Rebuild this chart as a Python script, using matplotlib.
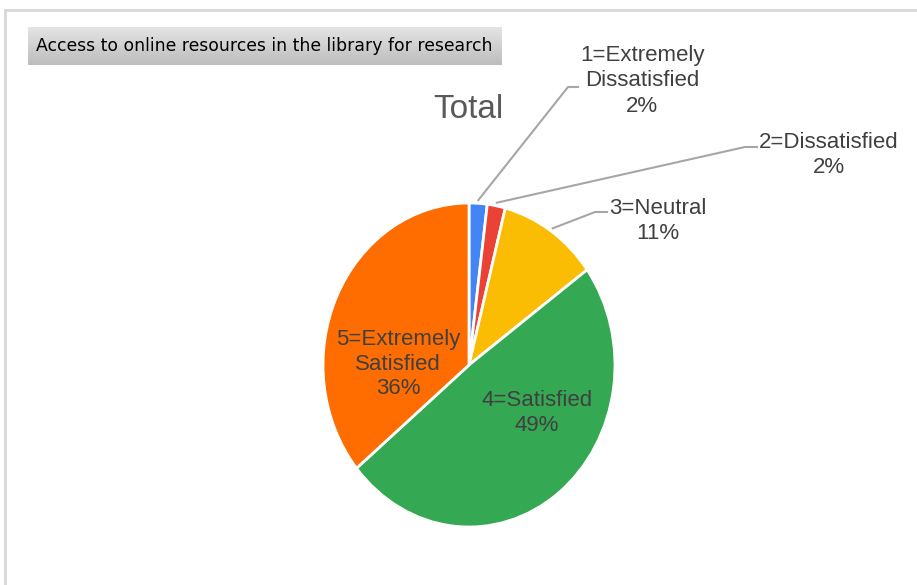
import numpy as np
import matplotlib
matplotlib.use("Agg")
import matplotlib.pyplot as plt

# data
categories = ["1=Extremely\nDissatisfied", "2=Dissatisfied", "3=Neutral",
              "4=Satisfied", "5=Extremely\nSatisfied"]
shares = [2, 2, 11, 49, 36]
colors = ["#4285F4", "#EA4335", "#FBBC04", "#34A853", "#FF6D01"]
title = "Access to online resources in the library for research"
subtitle = "Total"

W, H = 917, 585
fig = plt.figure(figsize=(W / 100, H / 100), dpi=100)
fig.patch.set_facecolor("white")


def fx(x):
    return x / W


def fy(y):
    return 1 - y / H


# outer frame (top + left)
fig.add_artist(plt.Line2D([fx(5), fx(917)], [fy(10), fy(10)], color="#d9d9d9", lw=2))
fig.add_artist(plt.Line2D([fx(5), fx(5)], [fy(10), fy(585)], color="#d9d9d9", lw=2))

# title box with gray gradient
tax = fig.add_axes([fx(28), fy(65), fx(501 - 28), (65 - 27) / H])
grad = np.linspace(0, 1, 64).reshape(-1, 1)
tax.imshow(grad, aspect="auto", cmap=matplotlib.colors.LinearSegmentedColormap.from_list(
    "g", ["#e4e4e4", "#bdbdbd"]), extent=[0, 1, 0, 1], origin="upper")
tax.set_axis_off()
fig.text(fx(36), fy(46), title, fontsize=12.4, color="black", va="center", ha="left",
         family=["Liberation Sans Narrow", "DejaVu Sans"])

fig.text(fx(468), fy(110), subtitle, fontsize=24, color="#595959", ha="center", va="center",
         family=["Liberation Sans", "DejaVu Sans"])

# pie (elliptical, as in the stretched reference)
cx, cy, rx, ry = 469, 365, 146, 162
ax = fig.add_axes([fx(cx - rx), fy(cy + ry), 2 * rx / W, 2 * ry / H])
wedges, _ = ax.pie(shares, colors=colors, startangle=90, counterclock=False,
                   wedgeprops=dict(edgecolor="white", linewidth=2))
ax.set_aspect("auto")
ax.set_xlim(-1, 1)
ax.set_ylim(-1, 1)
ax.axis("off")

total = sum(shares)
fs = 16
tc = "#404040"
lbl_font = ["Liberation Sans", "DejaVu Sans"]

# inside labels
fig.text(fx(537), fy(413), f"{categories[3]}\n{shares[3]}%", fontsize=fs, color=tc,
         ha="center", va="center", linespacing=1.25, family=lbl_font)
fig.text(fx(398), fy(364), f"{categories[4]}\n{shares[4]}%", fontsize=fs, color=tc,
         ha="center", va="center", linespacing=1.25, family=lbl_font)

# outside labels with leader lines
outside = [
    (0, (642, 81), (568, 87), (578, 87)),
    (1, (829, 155), (745, 147), (757, 147)),
    (2, (658, 221), (595, 212), (607, 212)),
]
cum = np.cumsum([0] + shares)
inv = ax.transData.inverted()
for i, (tx, ty), elbow, end in outside:
    mid = (cum[i] + cum[i + 1]) / 2 / total * 2 * np.pi
    r = 1.02
    sx, sy = r * np.sin(mid), r * np.cos(mid)
    pts = [inv.transform(fig.transFigure.transform((fx(p[0]), fy(p[1])))) for p in (elbow, end)]
    ax.plot([sx, pts[0][0], pts[1][0]], [sy, pts[0][1], pts[1][1]], color="#a6a6a6",
            lw=1.5, clip_on=False)
    fig.text(fx(tx), fy(ty), f"{categories[i]}\n{shares[i]}%", fontsize=fs, color=tc,
             ha="center", va="center", linespacing=1.25, family=lbl_font)

fig.savefig("out.png", dpi=100)
